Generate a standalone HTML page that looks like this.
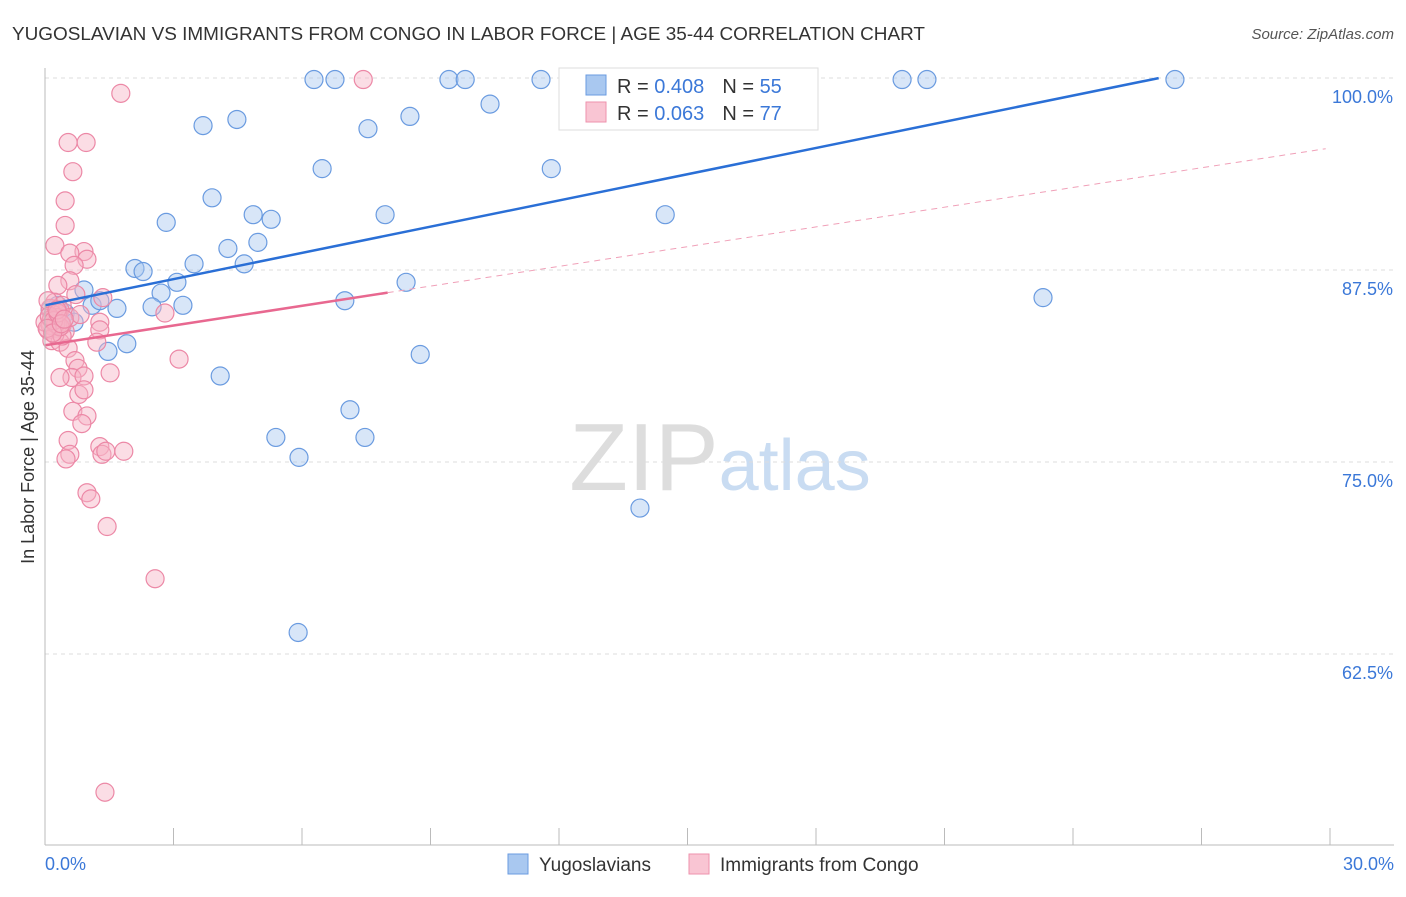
<!DOCTYPE html>
<html><head><meta charset="utf-8"><style>
body{margin:0;background:#fff;font-family:"Liberation Sans",sans-serif}
svg text{font-family:"Liberation Sans",sans-serif}
</style></head><body>
<svg id="chart" width="1406" height="892">
<text x="12" y="40" font-size="18" fill="#333" textLength="913" lengthAdjust="spacingAndGlyphs">YUGOSLAVIAN VS IMMIGRANTS FROM CONGO IN LABOR FORCE | AGE 35-44 CORRELATION CHART</text>
<text x="1394" y="39" font-size="15" fill="#555" font-style="italic" text-anchor="end">Source: ZipAtlas.com</text>
<text x="720" y="490" font-size="96" fill="#ddd" text-anchor="middle" font-family="Liberation Serif">ZIP<tspan fill="#c9dcf2" font-family="Liberation Sans" font-size="72">atlas</tspan></text>
<text transform="translate(34,457) rotate(-90)" font-size="18" fill="#333" text-anchor="middle">In Labor Force | Age 35-44</text>
<g id="grid"></g><g id="pts"></g><g id="lines"></g>
<line x1="45" y1="68" x2="45" y2="845" stroke="#bbb"/>
<line x1="45" y1="845" x2="1394" y2="845" stroke="#bbb"/>
<text x="45" y="870" font-size="18" fill="#3b78d8">0.0%</text>
<text x="1394" y="870" font-size="18" fill="#3b78d8" text-anchor="end">30.0%</text>
<g>
<rect x="559" y="68" width="259" height="62" fill="#fff" stroke="#ddd"/>
<rect x="586" y="75" width="20" height="20" fill="#a9c8f0" stroke="#6a9be0"/>
<rect x="586" y="102" width="20" height="20" fill="#f9c5d3" stroke="#ee92ac"/>
<text x="617" y="93" font-size="20" fill="#333">R = <tspan fill="#3b78d8">0.408</tspan><tspan dx="18">N = </tspan><tspan fill="#3b78d8">55</tspan></text>
<text x="617" y="120" font-size="20" fill="#333">R = <tspan fill="#3b78d8">0.063</tspan><tspan dx="18">N = </tspan><tspan fill="#3b78d8">77</tspan></text>
</g>
<g>
<rect x="508" y="854" width="20" height="20" fill="#a9c8f0" stroke="#6a9be0"/>
<text x="539" y="871" font-size="19" fill="#333">Yugoslavians</text>
<rect x="689" y="854" width="20" height="20" fill="#f9c5d3" stroke="#ee92ac"/>
<text x="720" y="871" font-size="19" fill="#333">Immigrants from Congo</text>
</g>
</svg>
<script>
const yTicks=[100,87.5,75,62.5];
const yTickLabels=["100.0%","87.5%","75.0%","62.5%"];
const xTicks=[0,3,6,9,12,15,18,21,24,27,30];
const blueX=[6.28,6.77,9.43,9.81,11.58,12.63,15.43,20.01,20.59,26.38,10.39,8.52,4.48,3.69,7.54,6.47,11.82,3.90,2.83,4.86,5.28,7.94,14.48,4.97,4.27,3.48,4.65,2.10,2.29,3.08,8.43,2.71,0.91,23.30,0.30,1.10,1.68,2.50,3.22,7.00,0.47,0.68,1.91,1.47,8.76,4.09,7.12,5.39,7.47,5.93,13.89,5.91,0.12,0.23,1.28];
const blueY=[99.9,99.9,99.9,99.9,99.9,99.9,99.9,99.9,99.9,99.9,98.3,97.5,97.3,96.9,96.7,94.1,94.1,92.2,90.6,91.1,90.8,91.1,91.1,89.3,88.9,87.9,87.9,87.6,87.4,86.7,86.7,86.0,86.2,85.7,85.2,85.2,85.0,85.1,85.2,85.5,84.7,84.1,82.7,82.2,82.0,80.6,78.4,76.6,76.6,75.3,72.0,63.9,84.9,84.2,85.5];
const pinkX=[1.77,0.54,0.96,0.65,0.47,0.47,0.23,0.91,0.58,0.98,0.68,0.58,0.72,0.30,1.35,0.23,0.40,0.12,0.35,0.19,0.28,0.12,0.40,0.23,0.07,0.47,0.58,0.82,1.28,1.28,0.16,0.35,0.54,1.21,2.80,3.13,0.70,0.77,1.52,0.63,0.91,0.35,0.79,0.91,0.65,0.98,0.86,0.54,1.28,0.58,0.49,1.33,1.42,1.84,0.98,1.07,1.45,2.57,1.40,7.43,0.12,0.23,0,0.07,0.30,0.40,0.15,0.25,0.35,0.10,0.20,0.30,0.05,0.18,0.28,0.38,0.45];
const pinkY=[99.0,95.8,95.8,93.9,92.0,90.4,89.1,88.7,88.6,88.2,87.8,86.8,85.9,86.5,85.7,85.4,85.2,85.0,84.9,84.6,84.4,84.1,83.9,83.7,83.6,83.5,84.4,84.6,84.1,83.6,82.9,82.8,82.4,82.8,84.7,81.7,81.6,81.1,80.8,80.5,80.6,80.5,79.4,79.7,78.3,78.0,77.5,76.4,76.0,75.5,75.2,75.5,75.7,75.7,73.0,72.6,70.8,67.4,53.5,99.9,83.9,83.3,84.1,85.5,83.9,83.2,84.3,84.0,83.8,84.5,84.2,84.7,83.7,83.4,84.9,84.0,84.3];
const blueTrend=[85.2,0.569,26.0];   // intercept, slope, end x
const pinkTrend=[82.6,0.428,8.0,29.9]; // intercept, slope, solid end, dashed end
const X=v=>45+v/30*1285, Y=v=>78+(100-v)/12.5*192;
const NS="http://www.w3.org/2000/svg";
function mk(t,a,p){const e=document.createElementNS(NS,t);for(const k in a)e.setAttribute(k,a[k]);p.appendChild(e);return e;}
const grid=document.getElementById('grid');
yTicks.forEach((v,i)=>{
 const l=mk('line',{x1:45,x2:1394,y1:Y(v),y2:Y(v),stroke:'#ddd','stroke-dasharray':'4 4'},grid);
 
 
 const t=mk('text',{x:1393,y:Y(v)+25,'font-size':18,fill:'#3b78d8','text-anchor':'end'},grid);
 t.textContent=yTickLabels[i];
 
 
});
xTicks.forEach(v=>{
 const l=mk('line',{x1:X(v),x2:X(v),y1:828,y2:845,stroke:'#bbb'},grid);
 
 
});
const pts=document.getElementById('pts');
blueX.forEach((v,i)=>{
 const c=mk('circle',{cx:X(v),cy:Y(blueY[i]),r:9,fill:'#a9c8f0','fill-opacity':0.45,stroke:'#6a9be0','stroke-width':1.2},pts);
 
 
});
pinkX.forEach((v,i)=>{
 const c=mk('circle',{cx:X(v),cy:Y(pinkY[i]),r:9,fill:'#f7b3c6','fill-opacity':0.45,stroke:'#ec88a6','stroke-width':1.2},pts);
 
 
});
const lines=document.getElementById('lines');
let l=mk('line',{x1:X(0),y1:Y(blueTrend[0]),x2:X(blueTrend[2]),y2:Y(blueTrend[0]+blueTrend[1]*blueTrend[2]),stroke:'#2a6fd6','stroke-width':2.5},lines);


l=mk('line',{x1:X(0),y1:Y(pinkTrend[0]),x2:X(pinkTrend[2]),y2:Y(pinkTrend[0]+pinkTrend[1]*pinkTrend[2]),stroke:'#e86890','stroke-width':2.5},lines);


l=mk('line',{x1:X(pinkTrend[2]),y1:Y(pinkTrend[0]+pinkTrend[1]*pinkTrend[2]),x2:X(pinkTrend[3]),y2:Y(pinkTrend[0]+pinkTrend[1]*pinkTrend[3]),stroke:'#f0a0b8','stroke-width':1,'stroke-dasharray':'6 5'},lines);


</script>
</body></html>
